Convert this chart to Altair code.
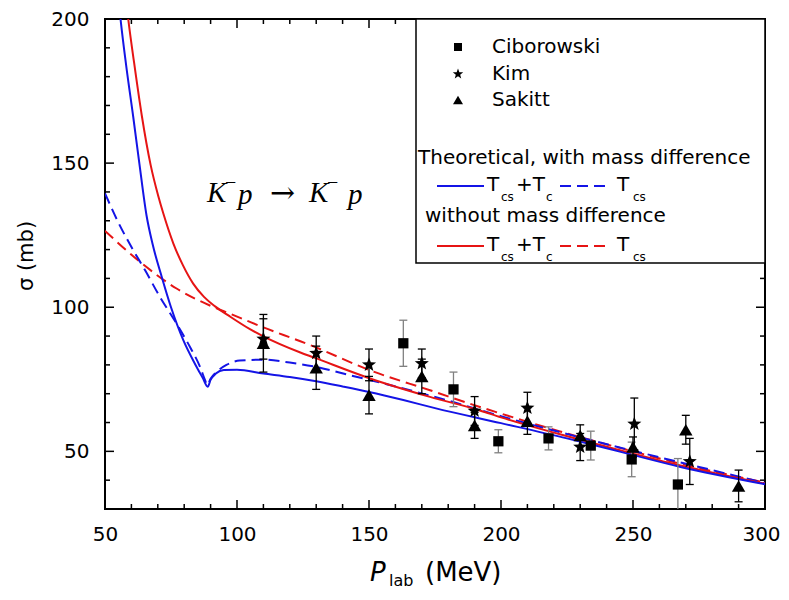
import altair as alt
import pandas as pd

# ---------------- data ----------------
# theoretical curves
bs_x = [55.2, 56.0, 58.0, 60.7, 63.0, 65.7, 68.0, 71.5, 75.0, 79.7, 84.0, 87.0, 88.9, 90.0, 92.0, 95.0,
        100.0, 110.0, 120.0, 130.0, 140.0, 150.0, 163.0, 175.0, 200.0, 225.0, 245.0, 268.0, 300.0]
bs_y = [206, 199, 184, 166, 150, 132, 122, 110.5, 100, 88.5, 80.5, 75.5, 72.4, 74.8, 77.0, 78.2,
        78.3, 77.0, 75.8, 74.3, 72.5, 70.6, 67.8, 65.0, 59.8, 54.5, 49.9, 44.6, 38.6]

bd_x = [50.0, 55.0, 60.7, 65.2, 70.8, 77.1, 82.2, 86.0, 87.9, 88.7, 90.0, 92.3, 96.0, 101.0, 110.0,
        120.0, 130.0, 142.8, 156.7, 165.5, 180.0, 200.0, 225.0, 250.0, 275.0, 300.0]
bd_y = [139.5, 129.5, 119.8, 112.8, 103.6, 94.3, 86.2, 79.3, 74.7, 73.0, 75.2, 77.6, 80.0, 81.5, 81.8,
        80.8, 79.3, 76.4, 73.3, 71.2, 67.6, 62.2, 56.0, 50.2, 44.6, 39.0]

rs_x = [58.3, 58.8, 61.0, 63.9, 67.3, 70.2, 72.1, 75.9, 79.5, 83.4, 87.5, 91.7, 97.3, 104.9, 110.0,
        124.0, 129.0, 150.4, 173.1, 192.0, 200.0, 222.0, 245.0, 268.0, 300.0]
rs_y = [204, 200, 185, 166.7, 149.3, 138.5, 132.5, 122.1, 114.6, 108.2, 103.6, 100.3, 96.8, 92.4, 89.9,
        84.3, 82.6, 75.3, 68.9, 64.2, 61.8, 56.0, 50.4, 45.1, 38.8]

rd_x = [50.0, 63.3, 77.1, 91.0, 97.3, 104.9, 110.0, 124.0, 129.0, 150.4, 173.1, 192.0, 200.0, 222.0,
        245.0, 268.0, 300.0]
rd_y = [126.5, 115.7, 106.5, 100.1, 97.8, 94.9, 93.0, 88.2, 86.4, 78.1, 71.2, 65.4, 63.1, 57.0,
        51.2, 45.7, 39.2]

# experimental data
cib_x = [163, 182, 199, 218, 234, 249.5, 267]
cib_y = [87.5, 71.5, 53.5, 54.5, 52.0, 47.2, 38.5]
cib_e = [8, 6, 4, 4, 5, 6, 9]

kim_x = [110, 130, 150, 170, 190, 210, 230, 250.5, 271.5]
kim_y = [89, 84, 80, 80.5, 64, 65, 51.5, 59.5, 46.5]
kim_e = [7, 6, 5.5, 5, 5, 5.5, 4.7, 9, 8]

sak_x = [110, 130, 150, 170, 190, 210, 230, 250, 270, 290]
sak_y = [87.5, 79, 69.5, 76, 59, 60.5, 55.5, 51.5, 57.5, 38]
sak_e = [10, 7.5, 6.5, 6, 4.5, 4.6, 3.7, 3.5, 5, 5.5]

x_major = [50, 100, 150, 200, 250, 300]
x_minor = [v for v in range(60, 300, 10) if v % 50 != 0]
y_major = [50, 100, 150, 200]
y_minor = [v for v in range(30, 200, 10) if v % 50 != 0]

# ---------------- styles ----------------
W, H = 660, 490
BLUE = "#1414e6"
RED = "#e61414"
FONT = "DejaVu Sans"
STAR = ("M0,-1L0.247,-0.34L0.951,-0.309L0.399,0.13L0.588,0.809L0,0.42L-0.588,0.809"
        "L-0.399,0.13L-0.951,-0.309L-0.247,-0.34Z")
CAP = "M-1,0L1,0"

XS = alt.Scale(domain=[50, 300], nice=False, zero=False, padding=0)
YS = alt.Scale(domain=[30, 200], nice=False, zero=False, padding=0)
AX = alt.Axis(values=x_major, ticks=False, tickSize=0, domain=False, grid=False, title=None,
              labelFontSize=20, labelFont=FONT, labelColor="black", labelPadding=15,
              labelBaseline="top", labelFlush=False, labelOverlap=False,
              labelOffset={"condition": {"test": "datum.value === 300", "value": -4}, "value": 0})
AY = alt.Axis(values=y_major, ticks=False, tickSize=0, domain=False, grid=False, title=None,
              labelFontSize=20, labelFont=FONT, labelColor="black", labelPadding=16,
              labelFlush=False, labelOverlap=False)

one = pd.DataFrame({"a": [0]})


def enc_xy(xf="x", yf="y"):
    return dict(x=alt.X(f"{xf}:Q", scale=XS, axis=AX), y=alt.Y(f"{yf}:Q", scale=YS, axis=AY))


def curve(xs, ys, color, dash=None):
    kw = dict(color=color, strokeWidth=2, clip=True, interpolate="monotone")
    if dash:
        kw["strokeDash"] = dash
    return alt.Chart(pd.DataFrame({"x": xs, "y": ys})).mark_line(**kw).encode(**enc_xy())


def series(xs, ys, es, shape, size, barcolor):
    df = pd.DataFrame({"x": xs, "y": ys, "e": es})
    df["lo"] = df["y"] - df["e"]
    df["hi"] = df["y"] + df["e"]
    caps = pd.concat([pd.DataFrame({"x": df["x"], "y": df["lo"]}),
                      pd.DataFrame({"x": df["x"], "y": df["hi"]})])
    bars = alt.Chart(df).mark_rule(color=barcolor, strokeWidth=1.3, clip=True).encode(
        x=alt.X("x:Q", scale=XS, axis=AX), y=alt.Y("lo:Q", scale=YS, axis=AY), y2="hi:Q")
    capm = alt.Chart(caps).mark_point(shape=CAP, size=64, color=barcolor, strokeWidth=1.3,
                                      filled=False, opacity=1, clip=True).encode(**enc_xy())
    pts = alt.Chart(df).mark_point(shape=shape, size=size, color="black", filled=True,
                                   opacity=1, strokeWidth=0).encode(**enc_xy())
    return [bars, capm, pts]


def ticks_layer(vals, axis, length):
    df = pd.DataFrame({"v": vals})
    base = alt.Chart(df).mark_rule(color="black", strokeWidth=1.5)
    if axis == "x":
        f = alt.X("v:Q", scale=XS, axis=AX)
        return [base.encode(x=f, y=alt.value(H), y2=alt.value(H - length)),
                base.encode(x=f, y=alt.value(0), y2=alt.value(length))]
    f = alt.Y("v:Q", scale=YS, axis=AY)
    return [base.encode(y=f, x=alt.value(0), x2=alt.value(length)),
            base.encode(y=f, x=alt.value(W), x2=alt.value(W - length))]


def txt(s, x, y, size=20, font=FONT, align="left", **kw):
    return alt.Chart(one).mark_text(text=s, align=align, baseline="middle", fontSize=size,
                                    font=font, color="black", **kw).encode(
        x=alt.value(x), y=alt.value(y))


def hline(x1, x2, y, color, dash=None):
    kw = dict(color=color, strokeWidth=2)
    if dash:
        kw["strokeDash"] = dash
    return alt.Chart(one).mark_rule(**kw).encode(x=alt.value(x1), x2=alt.value(x2), y=alt.value(y))


def sym(shape, size, x, y):
    return alt.Chart(one).mark_point(shape=shape, size=size, color="black", filled=True,
                                     opacity=1, strokeWidth=0).encode(x=alt.value(x), y=alt.value(y))


layers = []
layers.append(curve(rd_x, rd_y, RED, [11, 6]))
layers.append(curve(bd_x, bd_y, BLUE, [11, 6]))
layers.append(curve(rs_x, rs_y, RED))
layers.append(curve(bs_x, bs_y, BLUE))
layers += series(cib_x, cib_y, cib_e, "square", 105, "#808080")
layers += series(kim_x, kim_y, kim_e, STAR, 220, "black")
layers += series(sak_x, sak_y, sak_e, "triangle-up", 180, "black")

layers += ticks_layer(x_major, "x", 9)
layers += ticks_layer(x_minor, "x", 5)
layers += ticks_layer(y_major, "y", 9)
layers += ticks_layer(y_minor, "y", 5)

# reaction label  K^- p -> K^- p
SERIF = "Liberation Serif"
layers.append(txt("K", 102, 174, size=29, font=SERIF, fontStyle="italic"))
layers.append(txt("\u2212", 120, 164, size=20, font=SERIF))
layers.append(txt("p", 133, 176, size=29, font=SERIF, fontStyle="italic"))
layers.append(txt("\u2192", 165, 175, size=30, font="DejaVu Serif"))
layers.append(txt("K", 204, 174, size=29, font=SERIF, fontStyle="italic"))
layers.append(txt("\u2212", 222, 164, size=20, font=SERIF))
layers.append(txt("p", 243, 176, size=29, font=SERIF, fontStyle="italic"))

# legend box
layers.append(alt.Chart(one).mark_rect(fill="white", stroke="black", strokeWidth=1.5).encode(
    x=alt.value(311), x2=alt.value(660), y=alt.value(0), y2=alt.value(244)))
layers.append(sym("square", 64, 353, 28))
layers.append(sym(STAR, 120, 353, 55))
layers.append(sym("triangle-up", 100, 353, 81))
layers.append(txt("Ciborowski", 387, 28))
layers.append(txt("Kim", 387, 55))
layers.append(txt("Sakitt", 387, 81))
layers.append(txt("Theoretical, with mass difference", 313, 139))
layers.append(txt("without mass difference", 320, 197))
for yy, col in [(166, BLUE), (226, RED)]:
    layers.append(hline(332, 379, yy + 1, col))
    layers.append(txt("T", 382, yy))
    layers.append(txt("cs", 396, yy + 12, size=12))
    layers.append(txt("+T", 411, yy))
    layers.append(txt("c", 441, yy + 12, size=12))
    layers.append(hline(455, 503, yy + 1, col, [11, 6]))
    layers.append(txt("T", 512, yy))
    layers.append(txt("cs", 528, yy + 12, size=12))

# axis titles
layers.append(txt("\u03c3 (mb)", -78, 237, size=21, align="center", angle=270))
layers.append(txt("P", 265, 554, size=26, fontStyle="italic"))
layers.append(txt("lab", 284, 562, size=16))
layers.append(txt("(MeV)", 320, 554, size=26))

chart = alt.layer(*layers).properties(
    width=W, height=H,
    autosize=alt.AutoSizeParams(type="none"),
    padding={"left": 97, "top": 11, "right": 16, "bottom": 83},
).configure_view(stroke="black", strokeWidth=2)

chart.save("out.html", embed_options={"renderer": "svg", "actions": False})
